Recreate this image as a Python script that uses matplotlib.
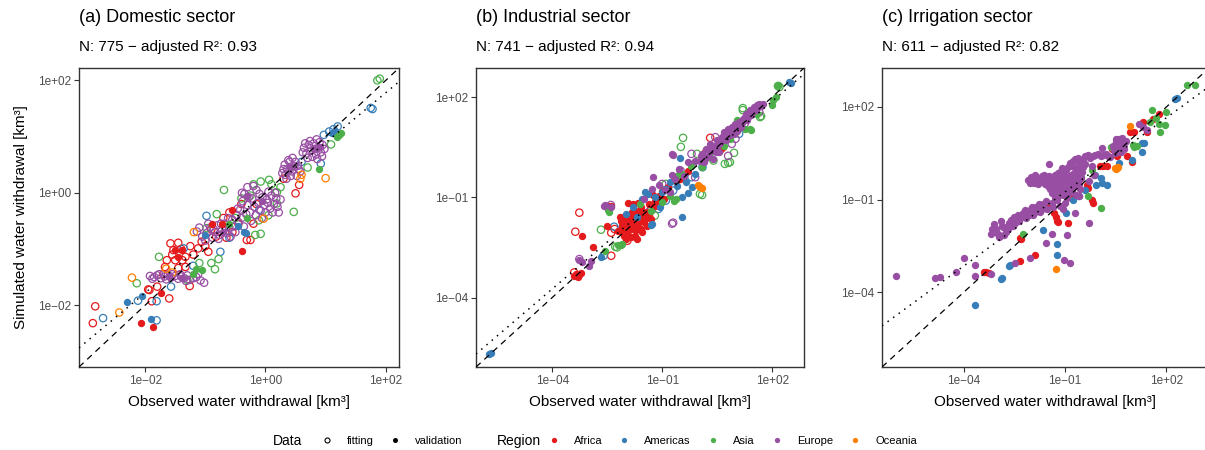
import numpy as np
import matplotlib
matplotlib.use("Agg")
import matplotlib.pyplot as plt
from matplotlib.lines import Line2D
from matplotlib.ticker import FixedLocator, FuncFormatter, NullLocator

plt.rcParams['font.family'] = ['Liberation Sans', 'DejaVu Sans']

regions = ['Africa', 'Americas', 'Asia', 'Europe', 'Oceania']
region_colors = ['#E41A1C', '#377EB8', '#4DAF4A', '#984EA3', '#FF7F00']

# all values are log10(km3): (observed, simulated)
# ---- (a) domestic ----
dom_africa_fit = [(-2.83, -2.02), (-2.87, -2.32), (-1.93, -1.73), (-1.89, -1.93), (-1.60, -1.88),
                  (-1.95, -1.72), (-1.80, -1.67), (-1.26, -1.66), (-1.64, -1.20), (-1.67, -1.32),
                  (-1.50, -1.20), (-1.45, -1.34), (-1.33, -1.32), (-1.45, -0.89), (-1.40, -1.00),
                  (-1.33, -1.14), (-1.58, -0.90), (-1.53, -1.02), (-1.06, -0.87), (-1.12, -0.99),
                  (-0.95, -1.05), (-0.40, -0.20), (0.56, 0.14), (0.50, -0.01), (-0.31, -0.84),
                  (-0.25, -0.84), (-1.20, -1.10), (-1.00, -0.95), (-0.82, -0.78), (-0.55, -0.70),
                  (-0.70, -0.45), (-0.20, -0.55), (-1.38, -1.20), (-1.70, -1.45), (-0.90, -0.65),
                  (-0.60, -0.35), (-0.15, -0.20), (0.30, 0.25), (-1.55, -1.10), (-1.25, -0.95),
                  (-0.65, -0.80), (-0.45, -0.55)]
dom_africa_val = [(-2.07, -2.32), (-1.87, -2.38), (-1.74, -1.79), (-1.38, -1.02), (-0.89, -0.55),
                  (-0.72, -0.55), (-0.39, -1.04), (-1.51, -1.02), (-1.45, -1.15), (-0.55, -0.30)]
dom_americas_fit = [(-2.70, -2.23), (-1.81, -1.93), (-1.57, -1.67), (-2.12, -1.92), (-1.81, -2.27),
                    (-0.98, -0.41), (-1.36, -0.99), (0.92, 0.52), (1.20, 1.18), (1.06, 1.09),
                    (0.97, 1.03), (1.75, 1.51), (1.78, 1.49), (-0.60, -0.80), (-0.10, -0.30),
                    (0.60, 0.55), (-1.20, -1.30), (-0.75, -1.05), (1.13, 1.13)]
dom_americas_val = [(-2.30, -1.95), (-2.05, -1.84), (-1.90, -2.24), (-0.36, -0.70), (-0.33, -0.72),
                    (1.11, 1.06), (-0.45, -0.60), (-1.00, -0.75), (1.16, 1.10)]
dom_asia_fit = [(-2.14, -1.61), (-1.77, -1.14), (-0.84, -1.36), (-0.78, -1.18), (-0.81, -0.38),
                (-0.98, -0.63), (-0.69, 0.05), (0.47, -0.34), (-0.08, 0.20), (0.06, 0.23),
                (0.19, 0.01), (0.19, -0.19), (-0.11, -0.49), (-0.08, -0.73), (-0.17, -0.75),
                (1.09, 0.86), (1.86, 2.00), (1.90, 2.03), (-0.50, -0.45), (-0.25, -0.05),
                (0.05, -0.40), (-1.10, -1.25), (0.70, 0.45), (-1.30, -1.55), (0.25, 0.10),
                (-0.20, 0.15), (-0.90, -1.25), (-0.40, -0.10), (0.10, 0.15)]
dom_asia_val = [(-1.20, -1.45), (-1.05, -1.38), (1.22, 1.03), (1.19, 1.00), (0.89, 0.43),
                (-0.30, -0.45), (-0.60, -0.55), (1.25, 1.06), (-1.15, -1.35)]
dom_europe_fit = [(-1.92, -1.48), (-1.85, -1.50), (-1.80, -1.47), (-1.74, -1.52), (-1.68, -1.49),
                  (-1.62, -1.46), (-1.57, -1.51), (-1.50, -1.48), (-1.45, -1.53), (-1.40, -1.49),
                  (-1.35, -1.52), (-1.30, -1.47), (-1.26, -1.55), (-1.15, -1.50), (-1.08, -1.56),
                  (-1.02, -1.60), (-1.14, -0.69), (-1.05, -0.78), (-0.98, -0.72), (-0.92, -0.62),
                  (-0.88, -0.80), (-0.84, -0.70), (-0.80, -0.58), (-0.76, -0.75), (-0.72, -0.66),
                  (-0.68, -0.55), (-0.64, -0.72), (-0.60, -0.62), (-0.55, -0.48), (-0.52, -0.60),
                  (-0.48, -0.40), (-0.45, -0.52), (-0.42, -0.30), (-0.38, -0.15), (-0.35, -0.02),
                  (-0.30, -0.22), (-0.26, -0.35), (-0.22, -0.10), (-0.18, -0.25), (-0.15, 0.05),
                  (-0.12, -0.18), (-0.08, -0.32), (-0.05, -0.08), (-0.02, -0.22), (0.02, -0.12),
                  (0.05, 0.02), (0.08, -0.28), (0.10, -0.05), (0.14, -0.20), (0.18, -0.10),
                  (0.22, -0.35), (-0.39, 0.00), (-0.30, 0.10), (-0.20, 0.12), (0.28, 0.35),
                  (0.32, 0.50), (0.36, 0.42), (0.40, 0.55), (0.44, 0.38), (0.48, 0.47),
                  (0.52, 0.30), (0.55, 0.42), (0.35, 0.25), (0.45, 0.62), (0.64, 0.80),
                  (0.68, 0.70), (0.72, 0.85), (0.76, 0.75), (0.80, 0.88), (0.84, 0.68),
                  (0.88, 0.80), (0.92, 0.72), (0.95, 0.85), (0.86, 0.60), (0.78, 0.64),
                  (-1.88, -1.53), (-1.77, -1.45), (-1.65, -1.54), (-1.55, -1.45), (-1.42, -1.45),
                  (-1.32, -1.57), (-1.20, -1.52), (-1.12, -1.45), (-1.10, -0.62), (-1.00, -0.85),
                  (-0.95, -0.55), (-0.86, -0.65), (-0.78, -0.82), (-0.74, -0.55), (-0.66, -0.62),
                  (-0.62, -0.45), (-0.58, -0.78), (-0.50, -0.70), (-0.46, -0.28), (-0.40, -0.45),
                  (-0.36, -0.60), (-0.32, -0.38), (-0.28, -0.08), (-0.24, -0.50), (-0.16, -0.40),
                  (-0.10, -0.02), (-0.06, -0.45), (0.00, -0.35), (0.04, -0.18), (0.12, -0.35),
                  (0.16, 0.00), (0.20, -0.25), (0.25, -0.12), (0.30, 0.42), (0.38, 0.58),
                  (0.42, 0.30), (0.50, 0.55), (0.54, 0.48), (0.58, 0.38), (0.40, 0.40),
                  (0.33, 0.32), (0.66, 0.88), (0.70, 0.62), (0.74, 0.92), (0.82, 0.78),
                  (0.90, 0.90), (0.94, 0.65), (0.98, 0.78), (0.62, 0.72), (0.85, 0.95)]
dom_europe_val = [(-1.60, -1.48), (-1.38, -1.52), (-0.70, -0.70), (-0.05, -0.15), (0.40, 0.45),
                  (0.80, 0.78), (-0.30, -0.05), (0.90, 0.82)]
dom_oceania_fit = [(-2.43, -2.13), (-2.22, -1.51), (-1.65, -1.35), (-1.19, -0.70), (-0.03, -0.46),
                   (0.58, 0.25), (1.00, 0.26), (0.60, 0.32), (-1.55, -1.42)]
dom_oceania_val = []

# ---- (b) industrial ----
ind_africa_fit = [(-3.37, -2.03), (-3.26, -1.46), (-2.39, -2.75), (-2.39, -2.06), (-2.30, -1.95),
                  (-1.95, -2.30), (0.31, 0.78), (0.20, 0.35), (-1.45, -1.50), (-1.30, -1.30),
                  (-0.60, -0.50), (1.00, 0.95), (-2.45, -1.30), (-3.40, -3.25)]
ind_africa_val = [(-3.40, -3.35), (-3.35, -3.30), (-3.30, -3.40), (-3.28, -3.33), (-3.22, -3.28),
                  (-2.88, -2.48), (-3.18, -2.15), (-2.50, -1.85), (-2.39, -1.27), (-1.93, -1.16),
                  (-1.80, -1.20), (-1.65, -1.16), (-1.57, -1.30), (-1.75, -1.40), (-2.15, -1.60),
                  (-2.05, -1.75), (-2.00, -1.95), (-1.95, -2.10), (-1.90, -1.85), (-1.85, -1.55),
                  (-1.80, -1.95), (-1.75, -2.15), (-1.70, -1.70), (-1.65, -1.90), (-1.60, -1.55),
                  (-1.55, -2.05), (-1.50, -1.75), (-1.45, -1.45), (-1.40, -1.60), (-2.10, -2.05),
                  (-1.98, -2.25), (-1.85, -2.20), (-1.62, -1.40), (-1.25, -0.93), (-1.10, -0.95),
                  (-1.20, -1.10), (-1.35, -1.20), (-0.95, -1.05), (0.66, 0.51), (0.60, 0.45),
                  (0.10, 0.20), (-0.30, -0.20), (-0.50, -0.45), (-0.85, -0.70), (-1.00, -0.80),
                  (-2.10, -1.85), (-2.20, -2.00), (-2.12, -1.70), (-2.02, -1.55), (-1.92, -2.00),
                  (-1.88, -1.68), (-1.82, -1.45), (-1.78, -1.80), (-1.72, -1.98), (-1.68, -1.55),
                  (-1.62, -1.75), (-1.58, -1.95), (-1.52, -1.50), (-1.48, -1.65), (-1.42, -1.85),
                  (-2.05, -2.15), (-1.95, -1.80), (-1.70, -2.25), (-1.35, -1.50), (-1.30, -1.65),
                  (-1.20, -1.25), (-1.05, -1.15)]
ind_americas_fit = [(-2.60, -2.75), (-2.31, -1.88), (-2.07, -1.88), (-1.33, -1.40), (-0.70, -0.80),
                    (-0.90, -1.10), (0.10, -0.10), (-1.10, -1.35), (-1.60, -1.70), (-0.20, -0.40),
                    (1.10, 0.90)]
ind_americas_val = [(-5.72, -5.70), (-5.66, -5.66), (-2.67, -2.78), (-1.30, -1.82), (-1.27, -1.79),
                    (-1.47, -0.84), (-1.40, -0.90), (-0.46, -0.99), (-0.29, -0.87), (-0.19, -0.69),
                    (-0.51, 0.18), (-0.46, -1.58), (2.46, 2.45), (2.52, 2.42), (-1.80, -1.30),
                    (-1.70, -1.60), (-1.00, -0.85), (-0.80, -0.55), (-0.10, -0.30), (0.50, 0.40),
                    (-2.00, -1.50), (-1.55, -1.05), (-1.20, -1.00), (-0.90, -0.75), (-0.60, -0.65),
                    (-0.35, -0.55), (-1.05, -1.30)]
ind_asia_fit = [(-2.67, -1.97), (-2.28, -2.48), (-2.23, -2.50), (-0.43, 0.78), (-0.49, 0.51),
                (0.80, 0.03), (0.85, 0.05), (0.09, -0.93), (0.03, -0.90), (1.20, 1.67),
                (1.67, 1.40), (1.70, 1.43), (2.16, 2.33), (2.20, 2.30), (0.96, 0.33),
                (0.71, 0.00), (1.20, 1.61), (-1.20, -1.55), (-0.90, -0.60), (0.40, 0.10),
                (0.55, 0.55), (-0.05, 0.30)]
ind_asia_val = [(-2.56, -2.60), (-2.45, -1.43), (-2.47, -1.39), (-2.10, -2.39), (-2.20, -2.42),
                (-2.12, -2.44), (-0.68, -1.10), (-0.62, -1.05), (1.04, 1.31), (1.42, 1.01),
                (1.40, 1.04), (2.00, 1.76), (2.02, 1.91), (2.16, 2.36), (2.10, 2.00),
                (-1.00, -1.15), (-0.60, -0.35), (0.30, 0.20), (0.70, 0.55), (0.85, 0.75),
                (-1.60, -1.20), (-0.20, -0.05), (1.25, 1.05), (1.60, 1.50), (-1.30, -1.40),
                (-0.80, -0.95), (-0.45, -0.30), (0.10, -0.10)]
ind_europe_fit = [(-3.26, -2.85), (-2.40, -1.23), (-0.73, -1.79), (-0.70, -1.76), (0.80, 0.24),
                  (0.65, 0.55), (1.00, 0.75), (1.25, 1.20), (-0.20, 0.30), (0.45, 0.80),
                  (-0.10, -0.40), (1.65, 1.55), (0.90, 0.60), (-1.00, -0.60), (-0.50, -0.20)]
ind_europe_val = [(-3.26, -2.87), (-3.20, -2.95), (-3.00, -3.05), (-2.94, -2.90), (-2.60, -1.25),
                  (-2.55, -1.22), (-0.73, 0.30), (-0.70, 0.28), (-1.25, -0.39), (-1.27, -0.75),
                  (-1.10, -0.63), (-0.92, -0.78), (-0.78, -0.84), (-0.73, -0.33), (-0.65, -0.45),
                  (0.03, 0.10), (0.10, 0.30), (0.15, 0.05), (0.20, 0.45), (0.25, 0.25),
                  (0.30, 0.60), (0.35, 0.38), (0.40, 0.15), (0.45, 0.50), (0.50, 0.70),
                  (0.55, 0.35), (0.58, 0.62), (0.62, 0.80), (0.70, 0.95), (0.75, 0.70),
                  (0.80, 1.05), (0.85, 0.85), (0.90, 1.10), (0.95, 0.90), (1.00, 1.20),
                  (1.05, 0.98), (1.10, 1.25), (1.15, 1.10), (1.20, 1.35), (1.30, 1.50),
                  (1.35, 1.40), (1.40, 1.60), (1.45, 1.55), (1.50, 1.70), (1.55, 1.62),
                  (1.60, 1.75), (1.70, 1.72), (-0.40, -0.35), (-0.30, 0.05), (-0.10, 0.10),
                  (-2.40, -1.28), (-1.50, -1.05), (-0.55, -0.15), (0.05, 0.25), (0.18, 0.15),
                  (0.28, 0.40), (0.38, 0.55), (0.48, 0.35), (0.52, 0.58), (0.65, 0.70),
                  (0.72, 0.82), (0.78, 0.92), (0.88, 0.95), (0.98, 1.05), (1.08, 1.12),
                  (1.18, 1.22), (1.25, 1.40), (1.32, 1.30), (1.42, 1.45), (1.48, 1.62),
                  (1.58, 1.68), (1.65, 1.80), (1.75, 1.78)]
ind_oceania_fit = []
ind_oceania_val = [(-0.02, -0.63), (0.03, -0.69), (0.00, -0.66), (0.08, -0.72)]

# ---- (c) irrigation (validation only) ----
irr_africa_val = [(-3.41, -3.35), (-3.33, -3.35), (-3.26, -3.38), (-2.34, -3.00), (-1.90, -2.80),
                  (-2.34, -2.23), (-2.30, -2.26), (-0.92, -1.77), (-1.34, -1.45), (-1.28, -1.55),
                  (-1.25, -1.70), (-1.22, -1.74), (-1.31, -0.74), (-1.31, -0.90), (-1.69, -1.23),
                  (-0.20, -1.00), (-0.17, -1.10), (1.77, 1.77), (0.91, 1.19), (1.05, 1.19),
                  (1.41, 1.19), (0.38, 0.65), (0.55, 0.40), (0.82, 0.40), (0.97, 0.23),
                  (0.02, 0.10), (0.12, 0.10), (0.23, 0.08), (-0.36, -0.52), (-0.33, -0.61),
                  (-0.78, -0.81), (-0.75, -0.84), (1.30, 1.50), (1.60, 1.60), (-1.55, -1.25)]
irr_americas_val = [(-3.67, -4.42), (-2.90, -3.58), (-2.88, -3.55), (-2.67, -3.16), (-2.64, -3.13),
                    (-1.25, -2.80), (-1.25, -2.45), (-1.66, -1.97), (-0.98, -1.45), (-0.12, -0.19),
                    (0.05, -0.30), (0.10, -0.45), (0.23, -0.52), (-0.08, -0.52), (-0.78, -1.00),
                    (-0.42, -0.68), (0.97, 0.29), (1.27, 0.84), (1.35, 0.82), (1.27, 0.55),
                    (2.25, 2.26), (2.30, 2.28), (-0.60, -0.90), (0.60, 0.20)]
irr_asia_val = [(2.60, 2.70), (2.86, 2.72), (1.56, 1.90), (1.98, 1.85), (1.95, 1.40),
                (1.77, 1.45), (1.82, 1.19), (1.00, 0.77), (1.05, 0.70), (1.12, 0.72),
                (-0.53, -0.26), (-0.33, -0.87), (0.05, -1.26), (-2.25, -2.10), (0.35, 0.70),
                (1.50, 1.50), (1.70, 1.65), (-0.20, -0.05)]
irr_europe_val = [(-6.01, -3.48), (-4.86, -3.55), (-4.71, -3.50), (-4.24, -3.35), (-4.00, -2.90),
                  (-3.67, -3.13), (-3.67, -3.48), (-3.20, -3.42), (-2.49, -3.06), (-2.05, -2.90),
                  (-1.57, -2.39), (-1.39, -2.13), (-0.95, -2.16), (-1.04, -2.94), (-0.86, -3.06),
                  (-0.30, -1.77), (-0.72, -1.45), (-2.93, -2.19),
                  (-3.20, -2.10), (-3.05, -1.95), (-2.95, -2.20), (-2.85, -1.90), (-2.75, -2.05),
                  (-2.65, -1.75), (-2.55, -1.85), (-2.45, -1.60), (-2.35, -1.70), (-2.25, -1.45),
                  (-2.15, -1.60), (-2.05, -1.35), (-1.95, -1.50), (-1.85, -1.25), (-1.75, -1.40),
                  (-1.65, -1.15), (-1.55, -1.30), (-3.10, -1.80), (-2.90, -1.70), (-2.70, -1.85),
                  (-2.50, -1.55), (-2.10, -0.35), (-2.00, -0.28), (-1.92, -0.45), (-1.85, -0.30),
                  (-1.75, -0.40), (-1.68, -0.25), (-1.60, -0.50), (-1.55, -0.35), (-1.45, -0.42),
                  (-1.49, 0.14), (-1.40, -0.80), (-1.35, -0.55), (-1.30, -0.95), (-1.25, -0.30),
                  (-1.20, -0.70), (-1.15, -0.10), (-1.10, -0.50), (-1.05, -0.85), (-1.00, -0.20),
                  (-0.95, -0.60), (-0.90, 0.05), (-0.85, -0.35), (-0.80, -0.75), (-0.75, -0.15),
                  (-0.70, -0.50), (-0.65, 0.00), (-0.60, -0.30), (-0.55, -0.65), (-0.50, -0.10),
                  (-1.30, -0.20), (-1.10, 0.02), (-0.95, -0.95), (-0.80, 0.10), (-1.25, -1.00),
                  (-1.40, -1.10), (-0.60, -0.90), (-1.00, -1.10), (-0.85, 0.20), (-0.70, 0.30),
                  (-0.55, 0.25), (-0.40, 0.40), (-0.25, 0.35), (-0.10, 0.45), (0.05, 0.42),
                  (0.20, 0.48), (0.32, 0.38), (-0.40, 0.15), (-0.20, 0.10), (0.08, 0.68),
                  (-0.30, -0.40), (-0.15, -0.20), (0.45, 0.60), (0.50, 0.85), (0.55, 0.70),
                  (0.60, 0.95), (0.65, 0.55), (0.70, 0.80), (0.75, 0.65), (0.80, 0.90),
                  (0.48, 0.50), (1.20, 1.45), (1.30, 1.35), (1.41, 1.26),
                  (-1.45, -0.65), (-1.38, -0.35), (-1.32, -0.75), (-1.28, -0.45), (-1.22, -0.15),
                  (-1.18, -0.85), (-1.12, -0.30), (-1.08, -0.65), (-1.02, -0.40), (-0.98, -0.05),
                  (-0.92, -0.80), (-0.88, -0.50), (-0.82, -0.20), (-0.78, -0.60), (-0.72, -0.30),
                  (-0.68, -0.85), (-0.62, -0.10), (-0.58, -0.50), (-0.52, -0.30), (-0.48, 0.05),
                  (-1.20, -0.45), (-1.00, -0.60), (-0.90, -0.30), (-1.15, -1.20), (-1.35, -1.25),
                  (-1.05, -1.30), (-0.78, 0.25), (-0.62, 0.35), (-0.48, 0.30), (-0.33, 0.45),
                  (-0.18, 0.40), (-0.03, 0.47), (0.12, 0.45), (0.26, 0.42), (-0.60, 0.15),
                  (0.42, 0.72), (0.52, 0.95), (0.58, 0.62), (0.62, 0.85), (0.68, 1.00),
                  (0.72, 0.72), (0.78, 0.85), (0.55, 0.55), (-3.15, -1.95), (-3.00, -2.10),
                  (-2.88, -1.85), (-2.80, -2.15), (-2.68, -1.95), (-2.60, -1.65), (-2.48, -1.75),
                  (-2.40, -1.50), (-2.28, -1.55), (-2.18, -1.35), (-2.08, -1.50), (-1.98, -1.25),
                  (-1.88, -1.40), (-1.78, -1.15), (-1.68, -1.30), (-1.58, -1.05), (-2.05, -0.45),
                  (-1.95, -0.35), (-1.88, -0.20), (-1.80, -0.48), (-1.70, -0.35), (-1.62, -0.20),
                  (-1.52, -0.55), (-1.48, -0.25)]
irr_oceania_val = [(-1.28, -3.26), (0.91, 1.39), (0.47, 0.03), (0.53, 0.03), (0.50, -0.02),
                   (0.58, 0.05)]

titles = ['(a) Domestic sector', '(b) Industrial sector', '(c) Irrigation sector']
n_obs = [775, 741, 611]
adj_r2 = ['0.93', '0.94', '0.82']
# fitted regression line in log space: slope, intercept
fit_slope = [0.89, 0.936, 0.80]
fit_icpt = [0.0, 0.0, 0.05]
ax_lims = [(-3.1, 2.22), (-6.08, 2.87), (-6.42, 3.26)]
tick_exp = [[-2, 0, 2], [-4, -1, 2], [-4, -1, 2]]

fit_sets = [
    [dom_africa_fit, dom_americas_fit, dom_asia_fit, dom_europe_fit, dom_oceania_fit],
    [ind_africa_fit, ind_americas_fit, ind_asia_fit, ind_europe_fit, ind_oceania_fit],
    [[], [], [], [], []],
]
val_sets = [
    [dom_africa_val, dom_americas_val, dom_asia_val, dom_europe_val, dom_oceania_val],
    [ind_africa_val, ind_americas_val, ind_asia_val, ind_europe_val, ind_oceania_val],
    [irr_africa_val, irr_americas_val, irr_asia_val, irr_europe_val, irr_oceania_val],
]

W, H = 1205, 450
fig = plt.figure(figsize=(W / 100, H / 100), dpi=100)

# panel boxes in pixels: left, width
boxes = [(79, 320), (476, 328), (882, 327)]
top_px, bot_px = 68, 367


def sci(v, pos):
    s = '%.0e' % v
    return s.replace('-', '\u2212')


for i in range(3):
    left, width = boxes[i]
    ax = fig.add_axes([left / W, 1 - bot_px / H, width / W, (bot_px - top_px) / H])
    for pts, col in zip(fit_sets[i], region_colors):
        if pts:
            x, y = np.array(pts).T
            ax.scatter(10 ** x, 10 ** y, s=28, facecolors='none', edgecolors=col,
                       linewidths=0.9, zorder=2)
    for pts, col in zip(val_sets[i], region_colors):
        if pts:
            x, y = np.array(pts).T
            ax.scatter(10 ** x, 10 ** y, s=28, color=col, linewidths=0, zorder=3)

    lo, hi = ax_lims[i]
    ends = np.array([lo, hi])
    ax.plot(10 ** ends, 10 ** ends, color='black', lw=0.9, ls=(0, (5, 4)), zorder=4)
    ax.plot(10 ** ends, 10 ** (fit_slope[i] * ends + fit_icpt[i]), color='black',
            lw=1.1, ls=(0, (1, 3.5)), zorder=4)

    ax.set_xscale('log')
    ax.set_yscale('log')
    ax.set_xlim(10 ** lo, 10 ** hi)
    ax.set_ylim(10 ** lo, 10 ** hi)
    for axis in (ax.xaxis, ax.yaxis):
        axis.set_major_locator(FixedLocator([10.0 ** e for e in tick_exp[i]]))
        axis.set_minor_locator(NullLocator())
        axis.set_major_formatter(FuncFormatter(sci))
    ax.tick_params(length=3.5, width=0.8, color='#333333', labelcolor='#4D4D4D',
                   labelsize=8.5, pad=2)
    for sp in ax.spines.values():
        sp.set_color('#333333')
        sp.set_linewidth(1.0)

    fig.text(left / W, 1 - 18 / H, titles[i], fontsize=13, ha='left', va='center')
    fig.text(left / W, 1 - 47 / H, 'N: %d \u2212 adjusted R\u00b2: %s' % (n_obs[i], adj_r2[i]),
             fontsize=11, ha='left', va='center')
    fig.text((left + width / 2) / W, 1 - 402 / H, 'Observed water withdrawal [km\u00b3]',
             fontsize=11, ha='center', va='center')

fig.text(21 / W, 1 - 217 / H, 'Simulated water withdrawal [km\u00b3]', fontsize=11,
         rotation=90, ha='center', va='center')

# legend
leg_y = 1 - 441 / H
fig.text(273 / W, leg_y, 'Data', fontsize=10, ha='left', va='center')
fig.text(497 / W, leg_y, 'Region', fontsize=10, ha='left', va='center')

data_handles = [
    Line2D([], [], ls='', marker='o', ms=3.6, mfc='none', mec='black', mew=0.8),
    Line2D([], [], ls='', marker='o', ms=3.6, mfc='black', mec='black', mew=0),
]
fig.legend(data_handles, ['fitting', 'validation'], ncol=2, frameon=False, fontsize=8,
           loc='center left', bbox_to_anchor=(321 / W, leg_y), borderpad=0, borderaxespad=0,
           handlelength=1.0, handletextpad=1.3, columnspacing=1.4)
region_handles = [Line2D([], [], ls='', marker='o', ms=3.8, mfc=c, mec=c, mew=0)
                  for c in region_colors]
fig.legend(region_handles, regions, ncol=5, frameon=False, fontsize=8,
           loc='center left', bbox_to_anchor=(548 / W, leg_y), borderpad=0, borderaxespad=0,
           handlelength=1.0, handletextpad=1.3, columnspacing=1.5)

fig.savefig('out.png', dpi=100)
